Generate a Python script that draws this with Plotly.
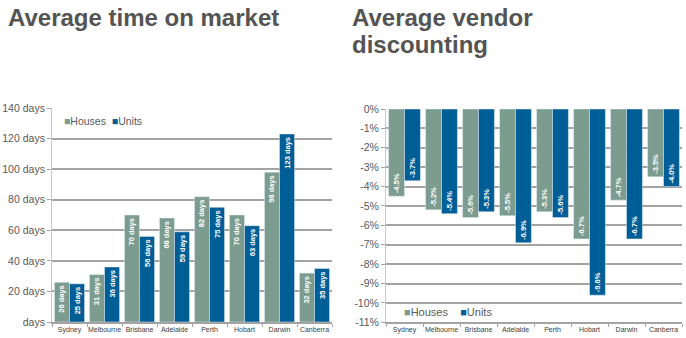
import plotly.graph_objects as go

# ---------------- data ----------------
cities = ["Sydney", "Melbourne", "Brisbane", "Adelaide", "Perth", "Hobart", "Darwin", "Canberra"]
days_houses = [26, 31, 70, 68, 82, 70, 98, 32]
days_units = [25, 36, 56, 59, 75, 63, 123, 35]
disc_houses = [-4.5, -5.2, -5.6, -5.5, -5.3, -6.7, -4.7, -3.5]
disc_units = [-3.7, -5.4, -5.3, -6.9, -5.6, -9.6, -6.7, -4.0]
days_tickvals = [0, 20, 40, 60, 80, 100, 120, 140]
days_ticktext = ["days", "20 days", "40 days", "60 days", "80 days", "100 days", "120 days", "140 days"]
pct_tickvals = [0, -1, -2, -3, -4, -5, -6, -7, -8, -9, -10, -11]
pct_ticktext = ["0%", "-1%", "-2%", "-3%", "-4%", "-5%", "-6%", "-7%", "-8%", "-9%", "-10%", "-11%"]

W, H = 686, 338
HOUSE_C = "#7b9c8f"
UNIT_C = "#005e96"
FONT = "Liberation Sans, Arial, sans-serif"
GRID = "#a3a3a3"

def px_x(a, b):
    return [a / W, b / W]

def px_y(top, bottom):
    return [(H - bottom) / H, (H - top) / H]

fig = go.Figure()

lbl_font = dict(color="white", size=7.5, family=FONT, weight="bold")

fig.add_trace(go.Bar(x=cities, y=days_houses, name="Houses", marker_color=HOUSE_C,
                     text=[f"{v} days" for v in days_houses], textposition="inside",
                     insidetextanchor="end", textangle=-90, textfont=lbl_font,
                     xaxis="x", yaxis="y", showlegend=False))
fig.add_trace(go.Bar(x=cities, y=days_units, name="Units", marker_color=UNIT_C,
                     text=[f"{v} days" for v in days_units], textposition="inside",
                     insidetextanchor="end", textangle=-90, textfont=lbl_font,
                     xaxis="x", yaxis="y", showlegend=False))
fig.add_trace(go.Bar(x=cities, y=disc_houses, name="Houses", marker_color=HOUSE_C,
                     text=[f"{v:.1f}%" for v in disc_houses], textposition="inside",
                     insidetextanchor="end", textangle=-90, textfont=lbl_font,
                     xaxis="x2", yaxis="y2", showlegend=False))
fig.add_trace(go.Bar(x=cities, y=disc_units, name="Units", marker_color=UNIT_C,
                     text=[f"{v:.1f}%" for v in disc_units], textposition="inside",
                     insidetextanchor="end", textangle=-90, textfont=lbl_font,
                     xaxis="x2", yaxis="y2", showlegend=False))

tick_font = dict(family=FONT, size=10.5, color="#595959")
cat_font = dict(family=FONT, size=7, color="#404040")

xcommon = dict(type="category", tickson="boundaries", ticks="outside", ticklen=3,
               tickcolor=GRID, showline=True, linecolor=GRID, linewidth=1.5,
               showgrid=False, tickfont=cat_font, tickangle=0, fixedrange=True,
               automargin=False)
ycommon = dict(showgrid=True, gridcolor=GRID, gridwidth=1.5, zeroline=False,
               showline=True, linecolor="#c8c8c8", linewidth=1, ticks="outside",
               ticklen=4, tickcolor=GRID, tickfont=tick_font, fixedrange=True,
               automargin=False)

fig.update_layout(
    width=W, height=H,
    margin=dict(l=0, r=0, t=0, b=0, autoexpand=False),
    paper_bgcolor="white", plot_bgcolor="white",
    barmode="group", bargap=0.14, bargroupgap=0,
    uniformtext=dict(minsize=7, mode="show"),
    xaxis=dict(domain=px_x(52, 332), anchor="y", **xcommon),
    yaxis=dict(domain=px_y(108, 322), anchor="x", range=[0, 140],
               tickvals=days_tickvals, ticktext=days_ticktext, **ycommon),
    xaxis2=dict(domain=px_x(386, 682), anchor="y2", **xcommon),
    yaxis2=dict(domain=px_y(109, 322.3), anchor="x2", range=[-11, 0],
                tickvals=pct_tickvals, ticktext=pct_ticktext, **ycommon),
)

title_font = dict(family=FONT, size=24, color="#545454", weight="bold")

def add_px_text(text, x, y, font, xanchor="left", yanchor="middle"):
    fig.add_annotation(text=text, x=x / W, y=1 - y / H, xref="paper", yref="paper",
                       xanchor=xanchor, yanchor=yanchor, showarrow=False, font=font)

add_px_text("<b>Average time on market</b>", 6, 17.5, title_font)
add_px_text("<b>Average vendor</b>", 350, 17.5, title_font)
add_px_text("<b>discounting</b>", 350, 44.5, title_font)

leg1 = dict(family=FONT, size=10.5, color="#595959")
add_px_text(f"<span style='color:{HOUSE_C}'>■</span>Houses  <span style='color:{UNIT_C}'>■</span>Units",
            62, 121, leg1)
leg2 = dict(family=FONT, size=11, color="#595959")
add_px_text(f"<span style='color:{HOUSE_C}'>■</span>Houses    <span style='color:{UNIT_C}'>■</span>Units",
            402, 312, leg2)

fig.write_html("out.html")
